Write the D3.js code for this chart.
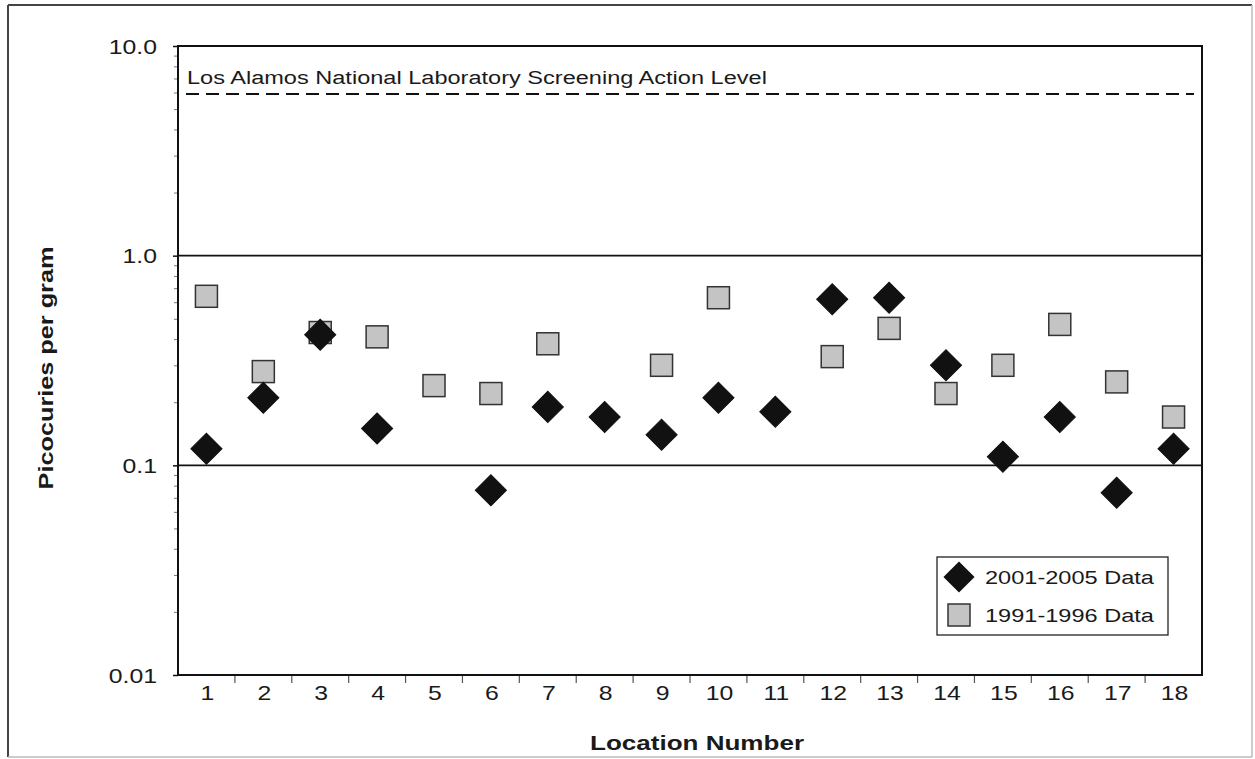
<!DOCTYPE html>
<html>
<head>
<meta charset="utf-8">
<script src="https://cdn.jsdelivr.net/npm/d3@7"></script>
<style>
  html, body { margin: 0; padding: 0; background: #fff; }
  svg { display: block; }
  text { font-family: "Liberation Sans", Arial, Helvetica, sans-serif; fill: #1a1a1a; }
</style>
</head>
<body>
<svg id="chart" width="1255" height="759"></svg>
<script>
// Sampling locations along the x axis
const locations = ["1","2","3","4","5","6","7","8","9","10","11","12","13","14","15","16","17","18"];

// Concentrations in picocuries per gram (null = not sampled in that period)
const recent2001_2005 = [0.12, 0.21, 0.42, 0.15, null, 0.076, 0.19, 0.17, 0.14, 0.21, 0.18, 0.62, 0.63, 0.30, 0.11, 0.17, 0.074, 0.12];
const earlier1991_1996 = [0.64, 0.28, 0.43, 0.41, 0.24, 0.22, 0.38, null, 0.30, 0.63, null, 0.33, 0.45, 0.22, 0.30, 0.47, 0.25, 0.17];

// Screening action level
const screeningLevel = 5.9;
const screeningLabel = "Los Alamos National Laboratory Screening Action Level";

// Y axis ticks and their printed labels
const yTickValues = [0.01, 0.1, 1, 10];
const yTickLabels = ["0.01", "0.1", "1.0", "10.0"];
const gridValues = [0.1, 1];

const seriesNames = ["2001-2005 Data", "1991-1996 Data"];
const xTitle = "Location Number";
const yTitle = "Picocuries per gram";

const svg = d3.select("#chart");
const W = 1255, H = 759;
const plot = { left: 178, right: 1202, top: 46, bottom: 675 };
const SX = 1.24; // horizontal glyph stretch of the typeface

// Outer frame
svg.append("line").attr("x1", 8).attr("y1", 5).attr("x2", 1252).attr("y2", 5).attr("stroke", "#444").attr("stroke-width", 2);
svg.append("line").attr("x1", 8).attr("y1", 5).attr("x2", 8).attr("y2", 757).attr("stroke", "#444").attr("stroke-width", 2);
svg.append("line").attr("x1", 1252).attr("y1", 5).attr("x2", 1252).attr("y2", 757).attr("stroke", "#bbb").attr("stroke-width", 1.5);
svg.append("line").attr("x1", 8).attr("y1", 757).attr("x2", 1252).attr("y2", 757).attr("stroke", "#bbb").attr("stroke-width", 1.5);

const x = d3.scaleBand().domain(locations).range([plot.left, plot.right]).paddingInner(0).paddingOuter(0);
const y = d3.scaleLog().domain([0.01, 10]).range([plot.bottom, plot.top]);

// Horizontal grid lines at 0.1 and 1.0
svg.append("g").selectAll("line").data(gridValues).join("line")
  .attr("x1", plot.left).attr("x2", plot.right)
  .attr("y1", d => y(d)).attr("y2", d => y(d))
  .attr("stroke", "#111").attr("stroke-width", 1.6);

// Minor log ticks on the y axis
const minorValues = [];
[0.01, 0.1, 1].forEach(dec => { for (let k = 2; k <= 9; k++) minorValues.push(dec * k); });
svg.append("g").attr("transform", `translate(${plot.left},0)`)
  .call(d3.axisLeft(y).tickValues(minorValues).tickSize(4).tickFormat(""))
  .call(g => g.select(".domain").remove())
  .call(g => g.selectAll("line").attr("stroke", "#777").attr("stroke-width", 1));

// Major y axis
svg.append("g").attr("transform", `translate(${plot.left},0)`)
  .call(d3.axisLeft(y).tickValues(yTickValues).tickSize(5).tickFormat((d, i) => yTickLabels[i]))
  .call(g => g.select(".domain").remove())
  .call(g => g.selectAll("line").attr("stroke", "#111").attr("stroke-width", 1.5))
  .call(g => g.selectAll("text")
    .attr("x", 0).attr("dy", null)
    .attr("transform", "translate(-21,7) scale(" + SX + ",1)")
    .style("font-size", "20px").style("fill", "#1a1a1a"));

// X axis labels
svg.append("g").attr("transform", `translate(0,${plot.bottom})`)
  .call(d3.axisBottom(x).tickSize(0))
  .call(g => g.select(".domain").remove())
  .call(g => g.selectAll("text")
    .attr("y", 0).attr("dy", null)
    .attr("transform", "translate(1,25) scale(" + SX + ",1)")
    .style("font-size", "20px").style("fill", "#1a1a1a"));

// Category separator ticks below the x axis
svg.append("g").selectAll("line").data(locations.slice(1)).join("line")
  .attr("x1", d => x(d)).attr("x2", d => x(d))
  .attr("y1", plot.bottom).attr("y2", plot.bottom + 8)
  .attr("stroke", "#555").attr("stroke-width", 1.2);

// Screening action level (dashed)
svg.append("line")
  .attr("x1", plot.left + 8).attr("x2", plot.right - 8)
  .attr("y1", y(screeningLevel)).attr("y2", y(screeningLevel))
  .attr("stroke", "#111").attr("stroke-width", 2).attr("stroke-dasharray", "13,7");
svg.append("text")
  .attr("transform", `translate(${plot.left + 9},${y(screeningLevel) - 10}) scale(${SX},1)`)
  .style("font-size", "19px").text(screeningLabel);

// Plot frame
svg.append("rect")
  .attr("x", plot.left).attr("y", plot.top)
  .attr("width", plot.right - plot.left).attr("height", plot.bottom - plot.top)
  .attr("fill", "none").attr("stroke", "#111").attr("stroke-width", 2);

const cx = d => x(d) + x.bandwidth() / 2;
const S = 22; // marker side

// 1991-1996 squares
const sqData = locations.map((l, i) => ({ l, v: earlier1991_1996[i] })).filter(d => d.v != null);
svg.append("g").selectAll("rect").data(sqData).join("rect")
  .attr("x", d => cx(d.l) - S / 2).attr("y", d => y(d.v) - S / 2)
  .attr("width", S).attr("height", S)
  .attr("fill", "#c4c4c4").attr("stroke", "#333").attr("stroke-width", 1.5);

// 2001-2005 diamonds
const dmData = locations.map((l, i) => ({ l, v: recent2001_2005[i] })).filter(d => d.v != null);
svg.append("g").selectAll("rect").data(dmData).join("rect")
  .attr("x", -S / 2).attr("y", -S / 2).attr("width", S).attr("height", S)
  .attr("transform", d => `translate(${cx(d.l)},${y(d.v)}) rotate(45)`)
  .attr("fill", "#111").attr("stroke", "#111").attr("stroke-width", 1);

// Legend
const lg = svg.append("g").attr("transform", "translate(937,557)");
lg.append("rect").attr("width", 231).attr("height", 78)
  .attr("fill", "#fff").attr("stroke", "#222").attr("stroke-width", 1.3);
lg.append("rect").attr("x", -11).attr("y", -11).attr("width", 22).attr("height", 22)
  .attr("transform", "translate(22,20) rotate(45)").attr("fill", "#111");
lg.append("rect").attr("x", 11).attr("y", 47).attr("width", 22).attr("height", 22)
  .attr("fill", "#c4c4c4").attr("stroke", "#333").attr("stroke-width", 1.5);
lg.selectAll("text.lab").data(seriesNames).join("text").attr("class", "lab")
  .attr("transform", (d, i) => `translate(48,${27 + i * 38}) scale(${SX},1)`)
  .style("font-size", "19px").text(d => d);

// Axis titles
svg.append("text")
  .attr("transform", `translate(697,750) scale(${SX},1)`)
  .attr("text-anchor", "middle").style("font-size", "21px").style("font-weight", "bold")
  .text(xTitle);
svg.append("text")
  .attr("transform", `translate(53,368) rotate(-90) scale(${SX * 0.97},1)`)
  .attr("text-anchor", "middle").style("font-size", "21px").style("font-weight", "bold")
  .text(yTitle);
</script>
</body>
</html>
